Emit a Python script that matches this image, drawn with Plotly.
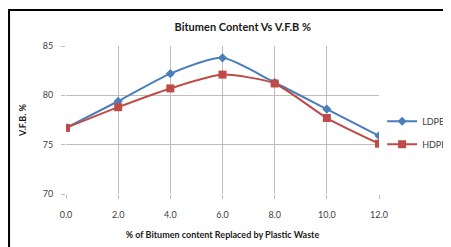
import plotly.graph_objects as go

x_vals = [0, 2, 4, 6, 8, 10, 12]
ldpe = [76.7, 79.4, 82.2, 83.8, 81.3, 78.6, 75.9]
hdpe = [76.7, 78.8, 80.7, 82.1, 81.2, 77.7, 75.1]

fig = go.Figure()
fig.add_trace(go.Scatter(x=x_vals, y=ldpe, name="LDPE", mode="lines+markers",
                         line=dict(color="#4A7EBB", width=2, shape="spline", smoothing=0.6),
                         marker=dict(symbol="diamond", size=7, color="#4A7EBB"),
                         legendgroup="a"))
fig.add_trace(go.Scatter(x=x_vals, y=hdpe, name="HDPE", mode="lines+markers",
                         line=dict(color="#BE4B48", width=2, shape="spline", smoothing=0.6),
                         marker=dict(symbol="square", size=8, color="#BE4B48"),
                         legendgroup="b"))

fig.update_layout(
    width=443, height=239,
    margin=dict(l=58, r=72, t=38, b=53, autoexpand=False),
    paper_bgcolor="white", plot_bgcolor="white",
    font=dict(family="Lato, Open Sans, sans-serif", size=9, color="#404040"),
    title=dict(text="<b>Bitumen Content Vs V.F.B %</b>", x=0.53, xanchor="center",
               y=0.92, yanchor="middle", font=dict(size=11, color="#1a1a1a")),
    xaxis=dict(range=[0, 12], tickvals=x_vals, tickformat=".1f", automargin=False,
               showgrid=True, gridcolor="#BEBEBE", gridwidth=1,
               zeroline=False, showline=False, ticks="outside", ticklen=4,
               ticklabelstandoff=8,
               tickcolor="#BEBEBE", tickfont=dict(size=9, color="#404040"),
               title=dict(text="<b>% of Bitumen content Replaced by Plastic Waste</b>",
                          font=dict(size=9, color="#1a1a1a"), standoff=12)),
    yaxis=dict(range=[70, 85], dtick=5, showgrid=True, gridcolor="#BEBEBE", gridwidth=1,
               automargin=False, ticklabelstandoff=6,
               zeroline=False, showline=False, ticks="outside", ticklen=4,
               tickcolor="#BEBEBE", tickfont=dict(size=9, color="#404040"),
               title=dict(text="<b>V.F.B. %</b>", font=dict(size=9, color="#1a1a1a"),
                          standoff=14)),
    legend=dict(x=1.01, y=0.59, xanchor="left", yanchor="top",
                tracegroupgap=4, font=dict(size=9, color="#404040"),
                bgcolor="rgba(0,0,0,0)", itemwidth=30),
    shapes=[dict(type="rect", xref="paper", yref="paper",
                 x0=-0.182, x1=1.5, y0=-0.6, y1=1.243,
                 line=dict(color="black", width=2), fillcolor="rgba(0,0,0,0)",
                 layer="below")],
)

fig.write_html("out.html")
